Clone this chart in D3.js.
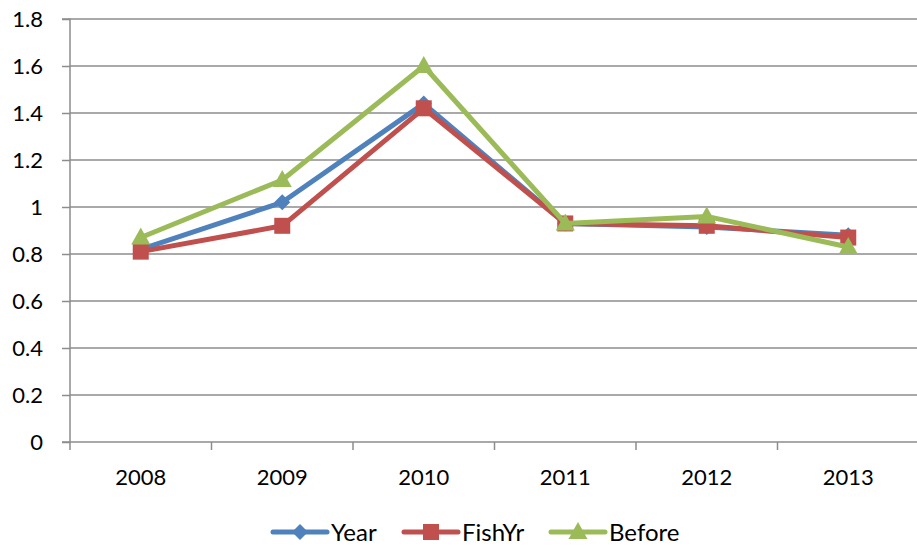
<!DOCTYPE html>
<html>
<head>
<meta charset="utf-8">
<script src="https://cdn.jsdelivr.net/npm/d3@7"></script>
<style>
  body { margin: 0; background: #fff; }
  svg { display: block; font-family: Lato, "Open Sans", sans-serif; }
</style>
</head>
<body>
<svg id="chart" width="917" height="547"></svg>
<script>
const years = ["2008", "2009", "2010", "2011", "2012", "2013"];
const yearVals   = [0.82, 1.02, 1.44, 0.93, 0.915, 0.88];
const fishYrVals = [0.81, 0.92, 1.42, 0.93, 0.92, 0.87];
const beforeVals = [0.87, 1.115, 1.60, 0.93, 0.96, 0.83];
const yTicks = [0, 0.2, 0.4, 0.6, 0.8, 1, 1.2, 1.4, 1.6, 1.8];

const series = [
  { name: "Year",   values: yearVals,   color: "#4F81BD", shape: "diamond" },
  { name: "FishYr", values: fishYrVals, color: "#C0504D", shape: "square" },
  { name: "Before", values: beforeVals, color: "#9BBB59", shape: "triangle" }
];

const svg = d3.select("#chart");
const plotLeft = 70, plotRight = 919, plotTop = 19, plotBottom = 442;
const fontSize = 22;

const x = d3.scaleBand().domain(years).range([plotLeft, plotRight]);
const y = d3.scaleLinear().domain([0, 1.8]).range([plotBottom, plotTop]);

// horizontal gridlines
svg.append("g").selectAll("line").data(yTicks.filter(d => d > 0)).join("line")
  .attr("x1", plotLeft).attr("x2", plotRight)
  .attr("y1", d => y(d)).attr("y2", d => y(d))
  .attr("stroke", "#8c8c8c").attr("stroke-width", 1.5);

// y axis
const yAxis = d3.axisLeft(y).tickValues(yTicks).tickSize(8).tickPadding(19)
  .tickFormat(d => String(+d.toFixed(1)));
const gy = svg.append("g").attr("transform", `translate(${plotLeft},0)`).call(yAxis);
gy.select(".domain").attr("stroke", "#8c8c8c").attr("stroke-width", 1.5).attr("d", `M-8,${plotTop}H0V${plotBottom}`);
gy.selectAll(".tick line").attr("stroke", "#8c8c8c").attr("stroke-width", 1.5);
gy.selectAll(".tick text").attr("font-size", fontSize).attr("fill", "#000")
  .attr("font-family", "Lato, 'Open Sans', sans-serif");

// x axis
const gx = svg.append("g").attr("transform", `translate(0,${plotBottom})`);
gx.append("line").attr("x1", plotLeft - 8).attr("x2", plotRight).attr("y1", 0).attr("y2", 0)
  .attr("stroke", "#8c8c8c").attr("stroke-width", 1.5);
const bounds = years.map(d => x(d)).concat([plotRight]);
gx.selectAll("line.tk").data(bounds).join("line").attr("class", "tk")
  .attr("x1", d => d).attr("x2", d => d).attr("y1", 0).attr("y2", 8)
  .attr("stroke", "#8c8c8c").attr("stroke-width", 1.5);
gx.selectAll("text").data(years).join("text")
  .attr("x", d => x(d) + x.bandwidth() / 2).attr("y", 43)
  .attr("text-anchor", "middle").attr("font-size", fontSize).attr("fill", "#000")
  .text(d => d);

const cx = d => x(d) + x.bandwidth() / 2;
const line = d3.line().x((v, i) => cx(years[i])).y(v => y(v));

function marker(g, shape, color, px, py) {
  if (shape === "diamond") {
    g.append("path").attr("d", `M${px},${py - 8}L${px + 8},${py}L${px},${py + 8}L${px - 8},${py}Z`).attr("fill", color);
  } else if (shape === "square") {
    g.append("rect").attr("x", px - 8).attr("y", py - 8).attr("width", 16).attr("height", 16).attr("fill", color);
  } else {
    g.append("path").attr("d", `M${px},${py - 10}L${px + 9.5},${py + 7}L${px - 9.5},${py + 7}Z`).attr("fill", color);
  }
}

series.forEach(s => {
  const g = svg.append("g");
  g.append("path").datum(s.values).attr("d", line)
    .attr("fill", "none").attr("stroke", s.color).attr("stroke-width", 5)
    .attr("stroke-linejoin", "round").attr("stroke-linecap", "round");
  s.values.forEach((v, i) => marker(g, s.shape, s.color, cx(years[i]), y(v)));
});

// legend
const legendX = [273, 404, 551];
series.forEach((s, i) => {
  const g = svg.append("g").attr("transform", `translate(${legendX[i]},532)`);
  g.append("line").attr("x1", 0).attr("x2", 54).attr("y1", 0).attr("y2", 0)
    .attr("stroke", s.color).attr("stroke-width", 5).attr("stroke-linecap", "round");
  marker(g, s.shape, s.color, 27, 0);
  g.append("text").attr("x", 58).attr("y", 9).attr("font-size", 24).attr("fill", "#000").text(s.name);
});
</script>
</body>
</html>
